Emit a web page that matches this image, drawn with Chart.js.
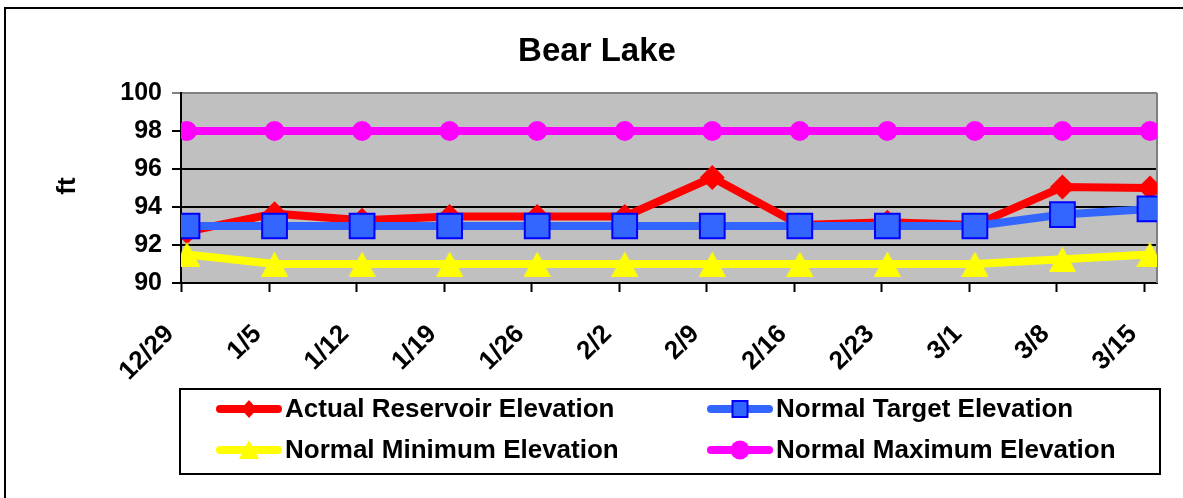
<!DOCTYPE html>
<html>
<head>
<meta charset="utf-8">
<script src="https://cdn.jsdelivr.net/npm/chart.js@4/dist/chart.umd.min.js"></script>
<style>
  html, body { margin: 0; padding: 0; background: #fff; }
  canvas { display: block; }
</style>
</head>
<body>
<canvas id="chart" width="1183" height="498"></canvas>
<script>
const dates = ['12/29', '1/5', '1/12', '1/19', '1/26', '2/2', '2/9', '2/16', '2/23', '3/1', '3/8', '3/15'];
const actualElev = [92.7, 93.65, 93.3, 93.5, 93.5, 93.5, 95.55, 93.05, 93.2, 93.05, 95.05, 95.0];
const targetElev = [93, 93, 93, 93, 93, 93, 93, 93, 93, 93, 93.6, 93.9];
const minElev = [91.5, 91, 91, 91, 91, 91, 91, 91, 91, 91, 91.25, 91.5];
const maxElev = [98, 98, 98, 98, 98, 98, 98, 98, 98, 98, 98, 98];
const yTicks = [90, 92, 94, 96, 98, 100];

const FONT = '"Liberation Sans", Arial, sans-serif';

// triangle marker centred on its bounding box (like Excel)
function triangleMarker(w, h) {
  const c = document.createElement('canvas');
  c.width = w; c.height = h;
  const g = c.getContext('2d');
  g.fillStyle = '#FFFF00';
  g.beginPath();
  g.moveTo(w / 2, 0);
  g.lineTo(w, h);
  g.lineTo(0, h);
  g.closePath();
  g.fill();
  return c;
}
const triBig = triangleMarker(27, 25);

const pts = arr => arr.map((v, i) => ({ x: i, y: v }));
const X_MIN = -0.0685, X_MAX = 11.08;
const LABEL_SHIFT = 0.127; // labels sit a little left of their tick marks

const legendItems = [
  { text: 'Actual Reservoir Elevation', color: '#FF0000', marker: 'diamond', col: 0, row: 0 },
  { text: 'Normal Target Elevation', color: '#3366FF', marker: 'square', col: 1, row: 0 },
  { text: 'Normal Minimum Elevation', color: '#FFFF00', marker: 'triangle', col: 0, row: 1 },
  { text: 'Normal Maximum Elevation', color: '#FF00FF', marker: 'circle', col: 1, row: 1 }
];

const decorations = {
  id: 'decorations',
  beforeDraw(chart) {
    const { ctx, chartArea: a } = chart;
    ctx.save();
    ctx.fillStyle = '#C0C0C0';
    ctx.fillRect(a.left, a.top, a.right - a.left, a.bottom - a.top);
    ctx.restore();
  },
  beforeDatasetsDraw(chart) {
    const { ctx, chartArea: a } = chart;
    const xs = chart.scales.x;
    ctx.save();
    ctx.strokeStyle = '#808080';
    ctx.lineWidth = 2;
    ctx.beginPath();
    ctx.moveTo(a.right, a.top);
    ctx.lineTo(a.right, a.bottom);
    ctx.stroke();
    // x tick marks
    ctx.strokeStyle = '#000';
    ctx.beginPath();
    dates.forEach((d, i) => {
      const px = Math.round(xs.getPixelForValue(i + X_MIN)) + 0.5;
      ctx.moveTo(px, a.bottom);
      ctx.lineTo(px, a.bottom + 9);
    });
    ctx.stroke();
    ctx.restore();
  },
  afterDraw(chart) {
    const ctx = chart.ctx;
    ctx.save();
    // outer frame
    ctx.strokeStyle = '#000';
    ctx.lineWidth = 2;
    ctx.strokeRect(5, 8, 1300, 600);

    // title
    ctx.fillStyle = '#000';
    ctx.font = 'bold 33px ' + FONT;
    ctx.textAlign = 'center';
    ctx.textBaseline = 'alphabetic';
    ctx.fillText('Bear Lake', 597, 61);

    // y axis title
    ctx.save();
    ctx.translate(68, 186);
    ctx.rotate(-Math.PI / 2);
    ctx.font = 'bold 26px ' + FONT;
    ctx.textAlign = 'center';
    ctx.textBaseline = 'middle';
    ctx.fillText('ft', 0, 0);
    ctx.restore();

    // legend
    ctx.lineWidth = 2;
    ctx.strokeStyle = '#000';
    ctx.strokeRect(180, 389, 980, 85);
    const colX = [218, 709];
    const rowY = [409, 450];
    legendItems.forEach(it => {
      const x0 = colX[it.col], y = rowY[it.row];
      const cx = x0 + 31;
      ctx.strokeStyle = it.color;
      ctx.lineWidth = 8;
      ctx.lineCap = 'round';
      ctx.beginPath();
      ctx.moveTo(x0 + 2, y);
      ctx.lineTo(x0 + 60, y);
      ctx.stroke();
      ctx.fillStyle = it.color;
      ctx.beginPath();
      if (it.marker === 'diamond') {
        ctx.moveTo(cx, y - 9); ctx.lineTo(cx + 8, y); ctx.lineTo(cx, y + 9); ctx.lineTo(cx - 8, y);
        ctx.closePath(); ctx.fill();
      } else if (it.marker === 'square') {
        ctx.rect(cx - 7.5, y - 8, 15, 16);
        ctx.fill();
        ctx.strokeStyle = '#0000FF';
        ctx.lineWidth = 2;
        ctx.stroke();
      } else if (it.marker === 'triangle') {
        ctx.moveTo(cx, y - 10); ctx.lineTo(cx + 10, y + 9); ctx.lineTo(cx - 10, y + 9);
        ctx.closePath(); ctx.fill();
      } else {
        ctx.arc(cx, y, 9.5, 0, Math.PI * 2);
        ctx.fill();
      }
      ctx.fillStyle = '#000';
      ctx.font = 'bold 26px ' + FONT;
      ctx.textAlign = 'left';
      ctx.textBaseline = 'middle';
      ctx.fillText(it.text, x0 + 67, y + 1);
    });
    ctx.restore();
  }
};

new Chart(document.getElementById('chart').getContext('2d'), {
  type: 'line',
  data: {
    datasets: [
      {
        label: 'Actual Reservoir Elevation',
        data: pts(actualElev),
        borderColor: '#FF0000',
        backgroundColor: '#FF0000',
        borderWidth: 8,
        pointStyle: 'rectRot',
        pointRadius: 12.5,
        pointBorderWidth: 0,
        order: 3
      },
      {
        label: 'Normal Target Elevation',
        data: pts(targetElev),
        borderColor: '#3366FF',
        backgroundColor: '#3366FF',
        borderWidth: 8,
        pointStyle: 'rect',
        pointRadius: 17.5,
        pointBorderColor: '#0000FF',
        pointBorderWidth: 2,
        order: 2
      },
      {
        label: 'Normal Minimum Elevation',
        data: pts(minElev),
        borderColor: '#FFFF00',
        backgroundColor: '#FFFF00',
        borderWidth: 8,
        pointStyle: triBig,
        pointRadius: 13,
        order: 1
      },
      {
        label: 'Normal Maximum Elevation',
        data: pts(maxElev),
        borderColor: '#FF00FF',
        backgroundColor: '#FF00FF',
        borderWidth: 8,
        pointStyle: 'circle',
        pointRadius: 10,
        pointBorderWidth: 0,
        order: 0
      }
    ]
  },
  options: {
    responsive: false,
    animation: false,
    events: [],
    layout: { padding: { left: 0, top: 93, right: 26, bottom: 0 } },
    plugins: {
      legend: { display: false },
      title: { display: false },
      tooltip: { enabled: false }
    },
    scales: {
      x: {
        type: 'linear',
        min: X_MIN,
        max: X_MAX,
        afterBuildTicks: scale => {
          scale.ticks = dates.map((d, i) => ({ value: i + X_MIN - LABEL_SHIFT }));
        },
        afterFit: scale => {
          scale.height = 215;
          scale.paddingLeft = 0;
          scale.paddingRight = 0;
        },
        ticks: {
          autoSkip: false,
          minRotation: 45,
          maxRotation: 45,
          padding: 36,
          color: '#000',
          font: { family: FONT, size: 26, weight: 'bold' },
          callback: (v, i) => dates[i]
        },
        grid: {
          display: false,
          drawOnChartArea: false,
          drawTicks: false
        },
        border: { display: true, color: '#000', width: 2 }
      },
      y: {
        min: 90,
        max: 100,
        afterBuildTicks: scale => {
          scale.ticks = yTicks.map(v => ({ value: v }));
        },
        afterFit: scale => { scale.width = 181; },
        ticks: {
          padding: 10,
          color: '#000',
          font: { family: FONT, size: 25, weight: 'bold' }
        },
        grid: {
          color: c => (c.tick && c.tick.value === 100 ? '#808080' : '#000'),
          lineWidth: 2,
          tickLength: 9,
          drawTicks: true
        },
        border: { display: true, color: '#000', width: 2 }
      }
    }
  },
  plugins: [decorations]
});
</script>
</body>
</html>
